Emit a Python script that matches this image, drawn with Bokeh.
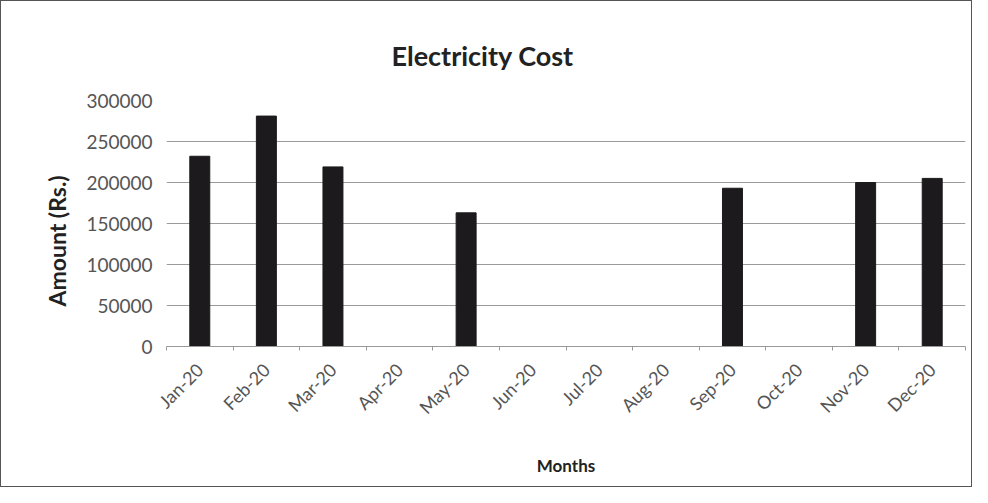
import math
from bokeh.plotting import figure
from bokeh.models import ColumnDataSource, FixedTicker, Range1d, NumeralTickFormatter, Title
from bokeh.embed import file_html
from bokeh.resources import INLINE

months = ["Jan-20", "Feb-20", "Mar-20", "Apr-20", "May-20", "Jun-20",
          "Jul-20", "Aug-20", "Sep-20", "Oct-20", "Nov-20", "Dec-20"]
amounts = [232000, 281000, 219000, 0, 163000, 0, 0, 0, 193000, 0, 200000, 205000]
y_ticks = [0, 50000, 100000, 150000, 200000, 250000, 300000]

FONT = "Lato"
idx = list(range(len(months)))
centers = [i + 0.5 for i in idx]
src = ColumnDataSource(dict(x=centers, amount=amounts, month=months))

FRAME_L, FRAME_T, FRAME_B = 165, 99, 142
p = figure(width=972, height=487, output_backend="svg", toolbar_location=None,
           x_range=Range1d(0, len(months)), y_range=Range1d(0, 300000),
           min_border_left=FRAME_L, min_border_right=8, min_border_top=FRAME_T,
           min_border_bottom=FRAME_B, title="Electricity Cost")
p.outline_line_color = None
p.styles = {"border": "1px solid #555", "box-sizing": "border-box"}

p.title.align = "left"
p.title.offset = 225
p.title.standoff = 58
p.title.text_font = FONT
p.title.text_font_style = "bold"
p.title.text_font_size = "27px"
p.title.text_color = "#222222"

p.vbar(x="x", top="amount", width=0.3, source=src, color="#1c1a1c")

# x axis
p.xaxis.ticker = FixedTicker(ticks=centers, minor_ticks=list(range(len(months) + 1)))
p.xaxis.major_label_overrides = {c: m for c, m in zip(centers, months)}
p.xaxis.major_label_orientation = math.pi / 4
p.xaxis.major_label_standoff = 14
p.xaxis.major_tick_line_color = None
p.xaxis.minor_tick_in = 0
p.xaxis.minor_tick_out = 4
p.xaxis.minor_tick_line_color = "#999999"
p.xaxis.axis_line_color = "#999999"
p.xaxis.major_label_text_font = FONT
p.xaxis.major_label_text_font_size = "18px"
p.xaxis.major_label_text_color = "#555555"
p.xaxis.axis_label = "Months"
p.xaxis.axis_label_text_font = FONT
p.xaxis.axis_label_text_font_style = "bold"
p.xaxis.axis_label_text_font_size = "17px"
p.xaxis.axis_label_text_color = "#222222"
p.xaxis.axis_label_standoff = 26

# y axis
p.yaxis.ticker = FixedTicker(ticks=y_ticks)
p.yaxis.formatter = NumeralTickFormatter(format="0")
p.yaxis.axis_line_color = None
p.yaxis.major_tick_line_color = None
p.yaxis.minor_tick_line_color = None
p.yaxis.major_label_text_font = FONT
p.yaxis.major_label_text_font_size = "19px"
p.yaxis.major_label_text_color = "#555555"
p.yaxis.major_label_standoff = 8

ylab = Title(text="Amount (Rs.)", align="left", offset=40, standoff=26,
             text_font=FONT, text_font_style="bold", text_font_size="23px",
             text_color="#222222")
p.add_layout(ylab, "left")

p.xgrid.grid_line_color = None
p.ygrid.grid_line_color = "#9a9a9a"
p.ygrid.grid_line_width = 1

open("out.html", "w").write(file_html(p, INLINE))
